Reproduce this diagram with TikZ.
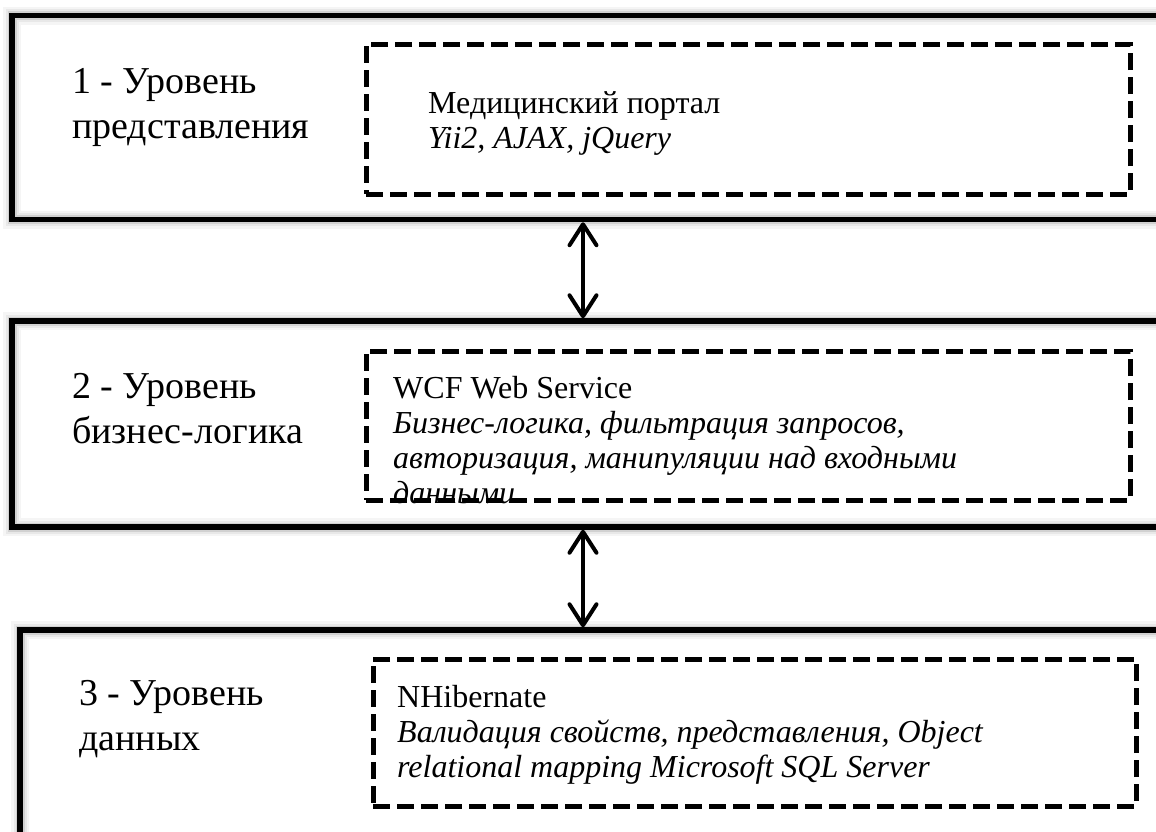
\documentclass[tikz,border=0pt]{standalone}
\usepackage{fontspec}
\setmainfont{Liberation Serif}
\usetikzlibrary{arrows.meta}
\tikzset{
  layerbox/.style={draw=black, line width=5.5pt, fill=none, inner sep=0pt,
    preaction={draw=black!4, line width=18pt},
    preaction={draw=black!9, line width=13pt},
    preaction={draw=black!18, line width=9pt}},
  techbox/.style={draw=black, line width=5pt, dash pattern=on 17pt off 7pt, inner sep=0pt, fill=none},
  lvltext/.style={inner sep=0pt, anchor=base west, font=\fontsize{38}{45}\selectfont},
  techtext/.style={inner sep=0pt, anchor=base west, font=\fontsize{32}{35}\selectfont},
  techital/.style={techtext, font=\fontsize{32}{35}\selectfont\itshape},
  dblarrow/.style={line width=4pt, line cap=round,
    {Straight Barb[length=21pt,width=27pt,round]}-{Straight Barb[length=21pt,width=27pt,round]}}
}
\begin{document}
\begin{tikzpicture}[x=1pt,y=-1pt]
\useasboundingbox (0,0) rectangle (1156,831);
\fill[white] (0,0) rectangle (1156,831);

% outer layer boxes
\node[layerbox, minimum width=1188pt, minimum height=204pt] (b1) at (606,117.5) {};
\node[layerbox, minimum width=1188pt, minimum height=206pt] (b2) at (606,424) {};
\node[layerbox, minimum width=1180pt, minimum height=230pt] (b3) at (610,745) {};

% level labels
\node[lvltext] (l1a) at (72,93) {1 - Уровень};
\node[lvltext] (l1b) at (72,138) {представления};
\node[lvltext] (l2a) at (72,398) {2 - Уровень};
\node[lvltext] (l2b) at (72,443) {бизнес-логика};
\node[lvltext] (l3a) at (79,705) {3 - Уровень};
\node[lvltext] (l3b) at (79,750) {данных};

% technology texts
\node[techtext] (t1a) at (428,113) {Медицинский портал};
\node[techital] (t1b) at (428,148) {Yii2, AJAX, jQuery};

\node[techtext] (t2a) at (393,398) {WCF Web Service};
\node[techital] (t2b) at (393,433) {Бизнес-логика, фильтрация запросов,};
\node[techital] (t2c) at (393,468) {авторизация, манипуляции над входными};
\begin{scope}
  \clip (366,351) rectangle (1130,503);
  \node[techital] (t2d) at (393,503) {данными};
\end{scope}

\node[techtext] (t3a) at (397,707) {NHibernate};
\node[techital] (t3b) at (397,742) {Валидация свойств, представления, Object};
\node[techital] (t3c) at (397,777) {relational mapping Microsoft SQL Server};

% dashed technology boxes
\node[techbox, minimum width=764pt, minimum height=150pt] (d1) at (748,119) {};
\node[techbox, minimum width=764pt, minimum height=149pt] (d2) at (748,425.5) {};
\node[techbox, minimum width=763pt, minimum height=147pt] (d3) at (754.5,732.5) {};

% arrows
\coordinate (ax) at (583,0);
\draw[dblarrow] (b1.south -| ax) -- (b2.north -| ax);
\draw[dblarrow] (b2.south -| ax) -- (b3.north -| ax);
\end{tikzpicture}
\end{document}
